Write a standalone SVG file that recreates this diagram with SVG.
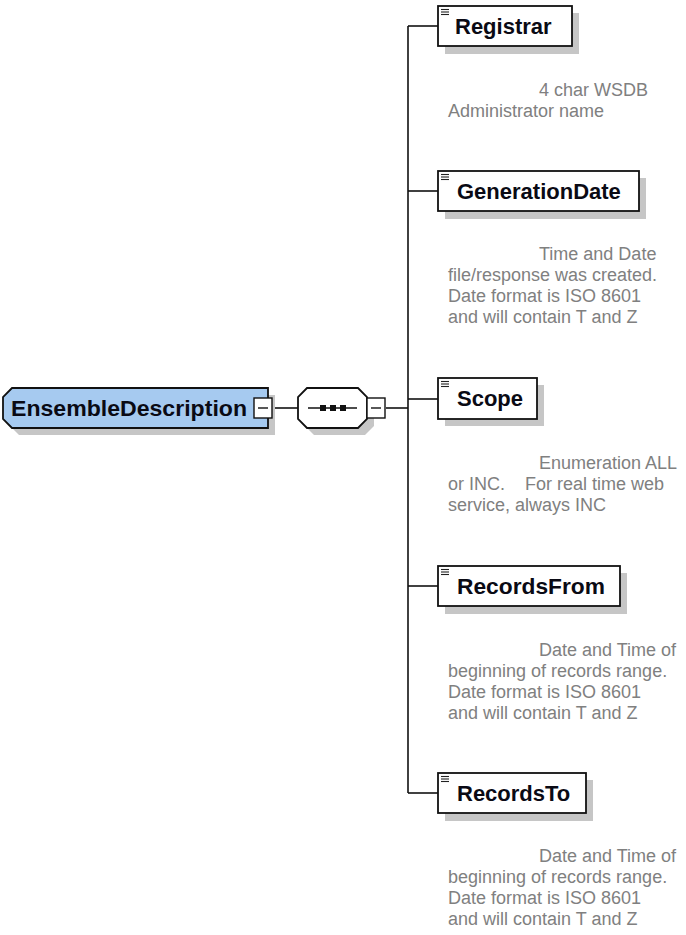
<svg xmlns="http://www.w3.org/2000/svg" width="686" height="935" viewBox="0 0 686 935">
  <style>
    .shadow { fill: #c6c6c6; stroke: none; }
    .box { fill: #ffffff; stroke: #111111; stroke-width: 1.8; }
    .root { fill: #a6caf0; stroke: #111111; stroke-width: 1.8; }
    .label { font-family: "Liberation Sans", Arial, sans-serif; font-weight: bold; font-size: 22px; fill: #0a0a14; }
    .doc { font-family: "Liberation Sans", Arial, sans-serif; font-size: 18px; fill: #808080; }
    .wire { fill: none; stroke: #111111; stroke-width: 1.6; }
    .toggle { fill: #ffffff; stroke: #111111; stroke-width: 1.4; }
    .icon { stroke: #222222; stroke-width: 1.1; }
  </style>
  <defs>
    <!-- expand/collapse toggle (minus) -->
    <g id="minus">
      <rect class="toggle" x="0" y="0" width="18" height="20"/>
      <line x1="4" y1="10" x2="14" y2="10" stroke="#111111" stroke-width="1.4"/>
    </g>
    <!-- element icon: three short rules -->
    <g id="elemIcon" class="icon">
      <line x1="0" y1="0.5" x2="8" y2="0.5"/>
      <line x1="0" y1="3" x2="8" y2="3"/>
      <line x1="0" y1="5.5" x2="8" y2="5.5"/>
    </g>
  </defs>

  <!-- connectors -->
  <g id="connectors" class="wire">
    <line x1="272" y1="408" x2="298" y2="408"/>
    <line x1="386" y1="408" x2="408" y2="408"/>
    <line x1="408" y1="26" x2="408" y2="793"/>
    <line x1="408" y1="26" x2="438" y2="26"/>
    <line x1="408" y1="191" x2="438" y2="191"/>
    <line x1="408" y1="399" x2="438" y2="399"/>
    <line x1="408" y1="586" x2="438" y2="586"/>
    <line x1="408" y1="793" x2="438" y2="793"/>
  </g>

  <!-- root element -->
  <g id="EnsembleDescription">
    <path class="shadow" d="M19 395 H275 V435 H19 L10 426 V404 Z"/>
    <path class="root" d="M12 388 H268 V428 H12 L3 419 V397 Z"/>
    <text class="label" x="11" y="415.5" textLength="236" lengthAdjust="spacingAndGlyphs">EnsembleDescription</text>
    <use href="#minus" x="254" y="398"/>
  </g>

  <!-- sequence compositor -->
  <g id="sequence">
    <path class="shadow" d="M314 395 H365 L374 404 V426 L365 435 H314 L305 426 V404 Z"/>
    <path class="box" d="M307 388 H358 L367 397 V419 L358 428 H307 L298 419 V397 Z"/>
    <line x1="308" y1="408" x2="357" y2="408" stroke="#111111" stroke-width="1.6"/>
    <rect x="320" y="405" width="6" height="6" fill="#111111"/>
    <rect x="330" y="405" width="6" height="6" fill="#111111"/>
    <rect x="340" y="405" width="6" height="6" fill="#111111"/>
    <use href="#minus" x="367" y="398"/>
  </g>

  <!-- Registrar -->
  <g id="Registrar">
    <rect class="shadow" x="445" y="13" width="134" height="41"/>
    <rect class="box" x="438" y="6" width="134" height="40"/>
    <use href="#elemIcon" x="441" y="9"/>
    <text class="label" x="455" y="34">Registrar</text>
    <text class="doc"><tspan x="539" y="96">4 char WSDB</tspan><tspan x="448" y="117">Administrator name</tspan></text>
  </g>

  <!-- GenerationDate -->
  <g id="GenerationDate">
    <rect class="shadow" x="445" y="178" width="201" height="41"/>
    <rect class="box" x="438" y="171" width="201" height="40"/>
    <use href="#elemIcon" x="441" y="174"/>
    <text class="label" x="457" y="199">GenerationDate</text>
    <text class="doc"><tspan x="539" y="260">Time and Date</tspan><tspan x="448" y="281">file/response was created.</tspan><tspan x="448" y="302">Date format is ISO 8601</tspan><tspan x="448" y="323">and will contain T and Z</tspan></text>
  </g>

  <!-- Scope -->
  <g id="Scope">
    <rect class="shadow" x="445" y="385" width="99" height="41"/>
    <rect class="box" x="438" y="378" width="99" height="41"/>
    <use href="#elemIcon" x="441" y="381"/>
    <text class="label" x="457" y="406">Scope</text>
    <text class="doc"><tspan x="539" y="469">Enumeration ALL</tspan><tspan x="448" y="490">or INC.&#160;&#160;&#160; For real time web</tspan><tspan x="448" y="511">service, always INC</tspan></text>
  </g>

  <!-- RecordsFrom -->
  <g id="RecordsFrom">
    <rect class="shadow" x="445" y="573" width="182" height="41"/>
    <rect class="box" x="438" y="566" width="182" height="40"/>
    <use href="#elemIcon" x="441" y="569"/>
    <text class="label" x="457" y="594" textLength="148" lengthAdjust="spacingAndGlyphs">RecordsFrom</text>
    <text class="doc"><tspan x="539" y="656">Date and Time of</tspan><tspan x="448" y="677">beginning of records range.</tspan><tspan x="448" y="698">Date format is ISO 8601</tspan><tspan x="448" y="719">and will contain T and Z</tspan></text>
  </g>

  <!-- RecordsTo -->
  <g id="RecordsTo">
    <rect class="shadow" x="445" y="780" width="148" height="41"/>
    <rect class="box" x="438" y="773" width="148" height="40"/>
    <use href="#elemIcon" x="441" y="776"/>
    <text class="label" x="457" y="801">RecordsTo</text>
    <text class="doc"><tspan x="539" y="862">Date and Time of</tspan><tspan x="448" y="883">beginning of records range.</tspan><tspan x="448" y="904">Date format is ISO 8601</tspan><tspan x="448" y="925">and will contain T and Z</tspan></text>
  </g>
</svg>
